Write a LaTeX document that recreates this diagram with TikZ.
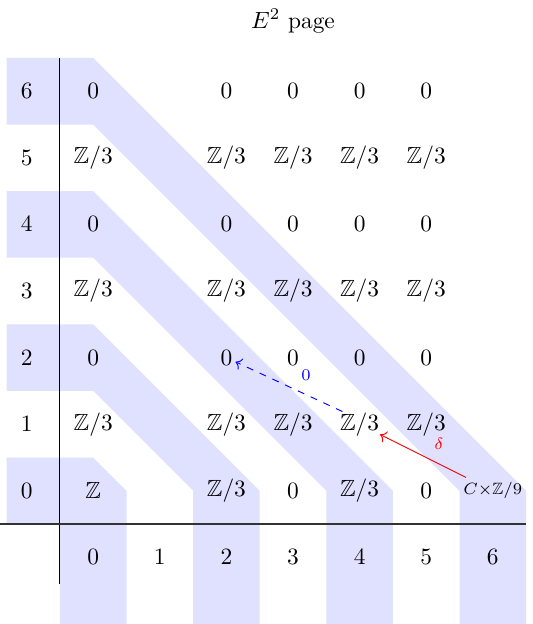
\documentclass[tikz,border=0pt]{standalone}
\usepackage{amssymb}
\usetikzlibrary{arrows.meta}

\begin{document}
\begin{tikzpicture}[
  x=1cm, y=1cm,
  band/.style={fill=blue!12, draw=none},
  arrow/.style={->},
  tiny/.style={font=\scriptsize}
]
\useasboundingbox (-1.4,-2) rectangle (6.6,7.37);

% Shaded diagonals
\fill[band] (-1.3,0.5) -- (0,0.5) -- (0.5,0) -- (0.5,-2) -- (-0.5,-2) -- (-0.5,-0.5) -- (-1.3,-0.5) -- cycle;
\foreach \k in {2,4,6}
  \fill[band] (-1.3,\k+0.5) -- (0,\k+0.5) -- (\k+0.5,0) -- (\k+0.5,-2) -- (\k-0.5,-2) -- (\k-0.5,0) -- (0,\k-0.5) -- (-1.3,\k-0.5) -- cycle;

% Axes
\coordinate (ytop) at (-0.5,6.5);
\coordinate (ybot) at (-0.5,-1.4);
\coordinate (xleft) at (-1.4,-0.5);
\coordinate (xright) at (6.5,-0.5);
\draw (ytop) -- (ybot);
\draw [semithick, black!80] (xleft) -- (xright);

% Title
\node (title) at (3,7.05) {$E^2$ page};

% Degrees
\foreach \n in {0,...,6} {
  \node (row\n) at (-1,\n) {$\n$};
  \node (col\n) at (\n,-1) {$\n$};
}

% Entries
\foreach \q in {2,4,6} {
  \node (e0\q) at (0,\q) {$0$};
  \foreach \p in {2,...,5} \node (e\p\q) at (\p,\q) {$0$};
}
\foreach \q in {1,3,5} {
  \node (e0\q) at (0,\q) {$\mathbb{Z}/3$};
  \foreach \p in {2,...,5} \node (e\p\q) at (\p,\q) {$\mathbb{Z}/3$};
}
\node (e00) at (0,0) {$\mathbb{Z}$};
\node (e20) at (2,0) {$\mathbb{Z}/3$};
\node (e30) at (3,0) {$0$};
\node (e40) at (4,0) {$\mathbb{Z}/3$};
\node (e50) at (5,0) {$0$};
\node (e60) at (6,0) {$\scriptstyle C\times\mathbb{Z}/9$};

% Differentials
\draw [arrow, red, shorten <=12.8pt, shorten >=9.8pt] (e60.center) -- node[above right, tiny] {$\delta$} (e41.center);
\draw [arrow, blue, dashed, shorten <=8.1pt, shorten >=4.3pt] ([yshift=2pt]e41.center) -- node[above right, tiny] {$0$} (e22.center);

\end{tikzpicture}
\end{document}
